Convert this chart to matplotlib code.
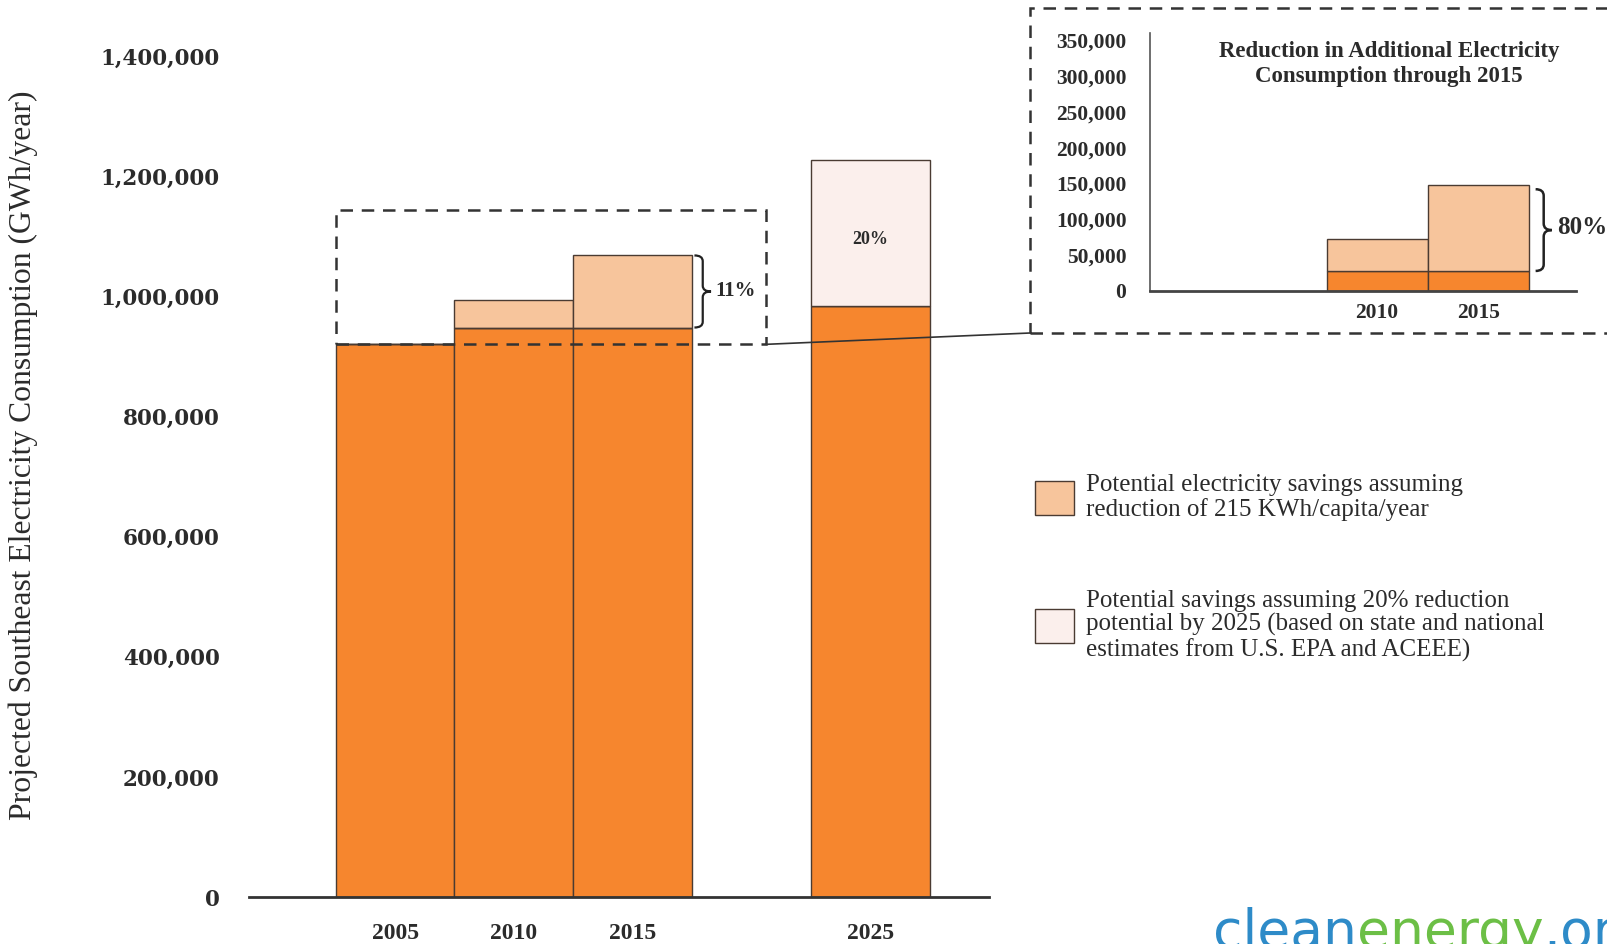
import matplotlib
matplotlib.use("Agg")
import matplotlib.pyplot as plt
from matplotlib.patches import Rectangle, ConnectionPatch, PathPatch
from matplotlib.path import Path
from matplotlib.ticker import FuncFormatter

# main chart data (GWh/year)
years = ["2005", "2010", "2015", "2025"]
base_use = [920000, 948000, 948000, 983000]
savings_215 = [0, 45000, 120000, 0]
savings_20pct = [0, 0, 0, 244000]

# inset data: reduction in additional consumption
inset_years = ["2010", "2015"]
inset_base = [28000, 28000]
inset_reduction = [45000, 120000]

W, H = 1607, 944
ORANGE = "#F6862E"
PEACH = "#F7C59C"
PALE = "#FBEFEC"
EDGE = "#4a3b32"
TXT = "#2b2b2b"
SERIF = "Liberation Serif"

fig = plt.figure(figsize=(W / 100, H / 100), dpi=100)


def fx(px):
    return px / W


def fy(py):
    return (H - py) / H


def brace(ax, x0, x1, y0, y1, lw=1.6):
    # curly brace opening to the left, tip on the right
    xm = (x0 + x1) / 2
    ym = (y0 + y1) / 2
    d = (y1 - y0) * 0.08
    verts = [(x0, y1), (xm, y1), (xm, y1 - d),
             (xm, ym + d), (xm, ym), (x1, ym),
             (xm, ym), (xm, ym - d),
             (xm, y0 + d), (xm, y0), (x0, y0)]
    codes = [Path.MOVETO, Path.CURVE3, Path.CURVE3,
             Path.LINETO, Path.CURVE3, Path.CURVE3,
             Path.CURVE3, Path.CURVE3,
             Path.LINETO, Path.CURVE3, Path.CURVE3]
    ax.add_patch(PathPatch(Path(verts, codes), fill=False, lw=lw,
                           color="#222222", clip_on=False, zorder=5))


# ---------------- main axes ----------------
ax = fig.add_axes([fx(249), fy(897), fx(989) - fx(249), fy(56) - fy(897)])
pos = [0, 1, 2, 4]
tops = [b + s for b, s in zip(base_use, savings_215)]
ax.bar(pos, base_use, width=1, color=ORANGE, edgecolor=EDGE, lw=1, zorder=2)
b215 = ax.bar(pos, savings_215, bottom=base_use, width=1, color=PEACH,
              edgecolor=EDGE, lw=1, zorder=2)
b20 = ax.bar(pos, savings_20pct, bottom=base_use, width=1, color=PALE,
             edgecolor=EDGE, lw=1, zorder=2)
ax.set_xlim(-1.23, 5.0)
ax.set_ylim(0, 1400000)
ax.set_yticks(range(0, 1400001, 200000))
ax.yaxis.set_major_formatter(FuncFormatter(lambda v, p: f"{int(v):,}"))
ax.set_xticks(pos)
ax.set_xticklabels(years)
for s in ["top", "right", "left"]:
    ax.spines[s].set_visible(False)
ax.spines["bottom"].set_linewidth(2)
ax.spines["bottom"].set_color("#333333")
ax.tick_params(axis="y", length=0, pad=21)
ax.tick_params(axis="x", length=0, pad=19)
for t in ax.get_yticklabels():
    t.set_fontfamily("DejaVu Serif")
    t.set_fontweight("bold")
    t.set_fontsize(15.5)
    t.set_color(TXT)
for t in ax.get_xticklabels():
    t.set_fontfamily(SERIF)
    t.set_fontweight("bold")
    t.set_fontsize(17)
    t.set_color(TXT)

# dashed zoom box around 2005-2015 tops
box_x0 = pos[0] - 0.5
box_x1 = pos[2] + 1.12
box_y0 = base_use[0]
box_y1 = 1143000
ax.add_patch(Rectangle((box_x0, box_y0), box_x1 - box_x0, box_y1 - box_y0,
                       fill=False, ls=(0, (5, 3.5)), lw=1.8, ec="#333333",
                       zorder=4))

# brace + 11%
brace(ax, pos[2] + 0.52, pos[2] + 0.66, base_use[2], tops[2])
ax.text(pos[2] + 0.7, (base_use[2] + tops[2]) / 2, "11%", fontfamily=SERIF,
        fontweight="bold", fontsize=15, color=TXT, va="center", ha="left")
ax.text(pos[3], base_use[3] + savings_20pct[3] / 2 - 10000, "20%",
        fontfamily=SERIF, fontweight="bold", fontsize=13, color=TXT,
        ha="center", va="center", zorder=5)

# y label
fig.text(fx(23), fy(455), "Projected Southeast Electricity Consumption (GWh/year)",
         rotation=90, fontfamily=SERIF, fontsize=22.8, color=TXT,
         ha="center", va="center")

# ---------------- inset ----------------
fig.add_artist(Rectangle((fx(1030), fy(333)), 1.2, fy(8) - fy(333),
                         transform=fig.transFigure, fill=False,
                         ls=(0, (5, 3.5)), lw=1.8, ec="#333333"))
con = ConnectionPatch(xyA=(box_x1, box_y0), coordsA=ax.transData,
                      xyB=(fx(1030), fy(333)), coordsB=fig.transFigure,
                      color="#333333", lw=1.2)
fig.add_artist(con)

ax2 = fig.add_axes([fx(1150), fy(291), fx(1576) - fx(1150), fy(33) - fy(291)])
ipos = [0, 1]
itops = [b + r for b, r in zip(inset_base, inset_reduction)]
ax2.bar(ipos, inset_base, width=1, color=ORANGE, edgecolor=EDGE, lw=1)
ax2.bar(ipos, inset_reduction, bottom=inset_base, width=1, color=PEACH,
        edgecolor=EDGE, lw=1)
ax2.set_xlim(-2.25, 1.97)
ax2.set_ylim(0, 360000)
ax2.set_yticks(range(0, 350001, 50000))
ax2.yaxis.set_major_formatter(FuncFormatter(lambda v, p: f"{int(v):,}"))
ax2.set_xticks(ipos)
ax2.set_xticklabels(inset_years)
for s in ["top", "right"]:
    ax2.spines[s].set_visible(False)
ax2.spines["bottom"].set_linewidth(2)
ax2.spines["bottom"].set_color("#444444")
ax2.spines["left"].set_linewidth(1.2)
ax2.spines["left"].set_color("#555555")
ax2.tick_params(axis="y", length=0, pad=17)
ax2.tick_params(axis="x", length=0, pad=9)
for t in ax2.get_yticklabels() + ax2.get_xticklabels():
    t.set_fontfamily(SERIF)
    t.set_fontweight("bold")
    t.set_fontsize(15.5)
    t.set_color(TXT)
fig.text(fx(1389), fy(64), "Reduction in Additional Electricity\nConsumption through 2015",
         fontfamily=SERIF, fontweight="bold", fontsize=16.5, color=TXT,
         ha="center", va="center", linespacing=1.3)
brace(ax2, ipos[1] + 0.57, ipos[1] + 0.73, inset_base[1], itops[1] - 6000, lw=1.8)
ax2.text(ipos[1] + 0.78, (inset_base[1] + itops[1]) / 2, "80%",
         fontfamily=SERIF, fontweight="bold", fontsize=18, color=TXT,
         va="center", ha="left", clip_on=False)

# ---------------- legend ----------------
leg = fig.legend([b215, b20],
                 ["Potential electricity savings assuming\nreduction of 215 KWh/capita/year",
                  "Potential savings assuming 20% reduction\npotential by 2025 (based on state and national\nestimates from U.S. EPA and ACEEE)"],
                 loc="upper left", bbox_to_anchor=(fx(1035), fy(474)),
                 frameon=False, borderpad=0, borderaxespad=0,
                 handlelength=1.55, handleheight=1.7, handletextpad=0.5,
                 labelspacing=2.75, prop={"family": SERIF, "size": 18})
for t in leg.get_texts():
    t.set_color(TXT)
    t.set_linespacing(1.1)

# ---------------- logo ----------------
fig.canvas.draw()
r = fig.canvas.get_renderer()
x = fx(1213)
for part, col in [("clean", "#2E8BC8"), ("energy", "#6CBF46"), (".org", "#2E8BC8")]:
    t = fig.text(x, fy(948), part, fontfamily="DejaVu Sans", fontsize=38.5,
                 color=col, ha="left", va="baseline")
    bb = t.get_window_extent(renderer=r)
    x += bb.width / W

fig.savefig("out.png", dpi=100)
